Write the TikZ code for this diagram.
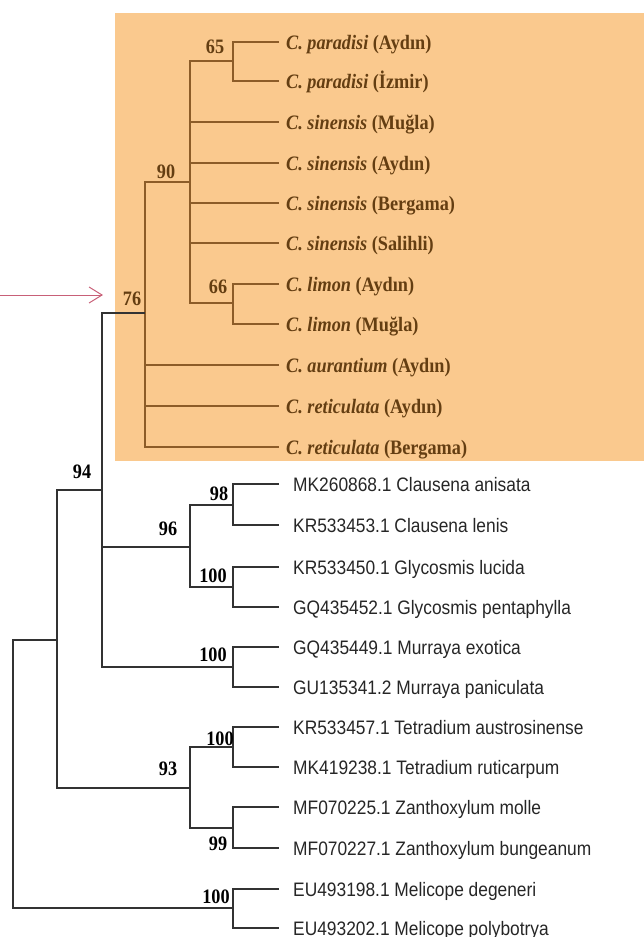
\documentclass[tikz,border=0pt]{standalone}
\usepackage{fontspec}
\setmainfont{Liberation Serif}[FakeStretch=0.89]
\newfontfamily\taxsans{Liberation Sans}[FakeStretch=0.89]
\usetikzlibrary{arrows.meta}
\definecolor{boxfill}{RGB}{250,201,142}
\definecolor{brline}{RGB}{140,92,40}
\definecolor{brtext}{RGB}{100,62,18}
\definecolor{darkline}{RGB}{50,50,50}
\definecolor{arrowcol}{RGB}{200,96,120}
\tikzset{
  brl/.style={draw=brline, line width=1.6pt},
  bkl/.style={draw=darkline, line width=1.3pt},
  citlab/.style={anchor=base west, inner sep=0pt, text=brtext, font=\fontsize{20.5}{24}\selectfont\bfseries},
  seqlab/.style={anchor=base west, inner sep=0pt, text=black!85, font=\taxsans\fontsize{19.5}{23}\selectfont},
  bsbr/.style={anchor=base, inner sep=0pt, text=brtext, font=\fontsize{20.5}{24}\selectfont\bfseries},
  bsbk/.style={anchor=base, inner sep=0pt, text=black, font=\fontsize{20.5}{24}\selectfont\bfseries},
  pointer/.style={draw=arrowcol, line width=1pt, -{Straight Barb[length=13pt,width=16pt,line width=1pt]}}
}
\begin{document}
\begin{tikzpicture}[x=1pt,y=-1pt]
\useasboundingbox (0,0) rectangle (644,937);
\fill[boxfill] (115,13) rectangle (644,461);

% leaf end coordinates
\coordinate (l1) at (279,42);
\coordinate (l2) at (279,81);
\coordinate (l3) at (279,122);
\coordinate (l4) at (279,163);
\coordinate (l5) at (279,203);
\coordinate (l6) at (279,243);
\coordinate (l7) at (279,284);
\coordinate (l8) at (279,324);
\coordinate (l9) at (279,365);
\coordinate (l10) at (279,406);
\coordinate (l11) at (279,447);
\coordinate (m1) at (279,484);
\coordinate (m2) at (279,525);
\coordinate (m3) at (279,567);
\coordinate (m4) at (279,607);
\coordinate (m5) at (279,647);
\coordinate (m6) at (279,687);
\coordinate (m7) at (279,727);
\coordinate (m8) at (279,767);
\coordinate (m9) at (279,807);
\coordinate (m10) at (279,848);
\coordinate (m11) at (279,889);
\coordinate (m12) at (279,928);

% internal nodes
\coordinate (n65) at (233,61);
\coordinate (nlim) at (233,303);
\coordinate (n90) at (190,182);
\coordinate (n76) at (145,313);
\coordinate (n98) at (233,505);
\coordinate (ngly) at (233,587);
\coordinate (n96) at (190,547);
\coordinate (nmur) at (233,667);
\coordinate (n94) at (102,490);
\coordinate (ntet) at (233,747);
\coordinate (nzan) at (233,828);
\coordinate (n93) at (190,788);
\coordinate (nA) at (57,640);
\coordinate (nmel) at (233,908);
\coordinate (root) at (13,775);

% citrus clade (brown)
\draw[brl] (n65) |- (l1);
\draw[brl] (n65) |- (l2);
\draw[brl] (n90) |- (n65);
\draw[brl] (n90) |- (l3);
\draw[brl] (n90) |- (l4);
\draw[brl] (n90) |- (l5);
\draw[brl] (n90) |- (l6);
\draw[brl] (n90) |- (nlim);
\draw[brl] (nlim) |- (l7);
\draw[brl] (nlim) |- (l8);
\draw[brl] (n76) |- (n90);
\draw[brl] (n76) |- (l9);
\draw[brl] (n76) |- (l10);
\draw[brl] (n76) |- (l11);

% rest of tree (dark)
\draw[bkl] (n94) |- (n76);
\draw[bkl] (n98) |- (m1);
\draw[bkl] (n98) |- (m2);
\draw[bkl] (ngly) |- (m3);
\draw[bkl] (ngly) |- (m4);
\draw[bkl] (n96) |- (n98);
\draw[bkl] (n96) |- (ngly);
\draw[bkl] (n94) |- (n96);
\draw[bkl] (nmur) |- (m5);
\draw[bkl] (nmur) |- (m6);
\draw[bkl] (n94) |- (nmur);
\draw[bkl] (ntet) |- (m7);
\draw[bkl] (ntet) |- (m8);
\draw[bkl] (nzan) |- (m9);
\draw[bkl] (nzan) |- (m10);
\draw[bkl] (n93) |- (ntet);
\draw[bkl] (n93) |- (nzan);
\draw[bkl] (nA) |- (n94);
\draw[bkl] (nA) |- (n93);
\draw[bkl] (nmel) |- (m11);
\draw[bkl] (nmel) |- (m12);
\draw[bkl] (root) |- (nA);
\draw[bkl] (root) |- (nmel);

% citrus labels
\node[citlab] (t1) at (286,49) {\textit{C. paradisi} (Aydın)};
\node[citlab] (t2) at (286,88) {\textit{C. paradisi} (İzmir)};
\node[citlab] (t3) at (286,129) {\textit{C. sinensis} (Muğla)};
\node[citlab] (t4) at (286,170) {\textit{C. sinensis} (Aydın)};
\node[citlab] (t5) at (286,210) {\textit{C. sinensis} (Bergama)};
\node[citlab] (t6) at (286,250) {\textit{C. sinensis} (Salihli)};
\node[citlab] (t7) at (286,291) {\textit{C. limon} (Aydın)};
\node[citlab] (t8) at (286,331) {\textit{C. limon} (Muğla)};
\node[citlab] (t9) at (286,372) {\textit{C. aurantium} (Aydın)};
\node[citlab] (t10) at (286,413) {\textit{C. reticulata} (Aydın)};
\node[citlab] (t11) at (286,454) {\textit{C. reticulata} (Bergama)};

% sequence labels
\node[seqlab] (s1) at (293,491.5) {MK260868.1 Clausena anisata};
\node[seqlab] (s2) at (293,532.5) {KR533453.1 Clausena lenis};
\node[seqlab] (s3) at (293,574.5) {KR533450.1 Glycosmis lucida};
\node[seqlab] (s4) at (293,614.5) {GQ435452.1 Glycosmis pentaphylla};
\node[seqlab] (s5) at (293,654.5) {GQ435449.1 Murraya exotica};
\node[seqlab] (s6) at (293,694.5) {GU135341.2 Murraya paniculata};
\node[seqlab] (s7) at (293,734.5) {KR533457.1 Tetradium austrosinense};
\node[seqlab] (s8) at (293,774.5) {MK419238.1 Tetradium ruticarpum};
\node[seqlab] (s9) at (293,814.5) {MF070225.1 Zanthoxylum molle};
\node[seqlab] (s10) at (293,855.5) {MF070227.1 Zanthoxylum bungeanum};
\node[seqlab] (s11) at (293,896.5) {EU493198.1 Melicope degeneri};
\node[seqlab] (s12) at (293,935.5) {EU493202.1 Melicope polybotrya};

% bootstrap values
\node[bsbr] (b65) at (215,53) {65};
\node[bsbr] (b90) at (166,178) {90};
\node[bsbr] (b66) at (218,293) {66};
\node[bsbr] (b76) at (132,305) {76};
\node[bsbk] (b94) at (82,478) {94};
\node[bsbk] (b98) at (219,500) {98};
\node[bsbk] (b96) at (168,535) {96};
\node[bsbk] (b100a) at (213,582) {100};
\node[bsbk] (b100b) at (213,661) {100};
\node[bsbk] (b100c) at (220,745) {100};
\node[bsbk] (b93) at (168,775) {93};
\node[bsbk] (b99) at (218,850) {99};
\node[bsbk] (b100d) at (216,903) {100};

% pointer arrow
\coordinate (arrS) at (0,295);
\coordinate (arrE) at (103,295);
\draw[pointer] (arrS) -- (arrE);
\end{tikzpicture}
\end{document}
